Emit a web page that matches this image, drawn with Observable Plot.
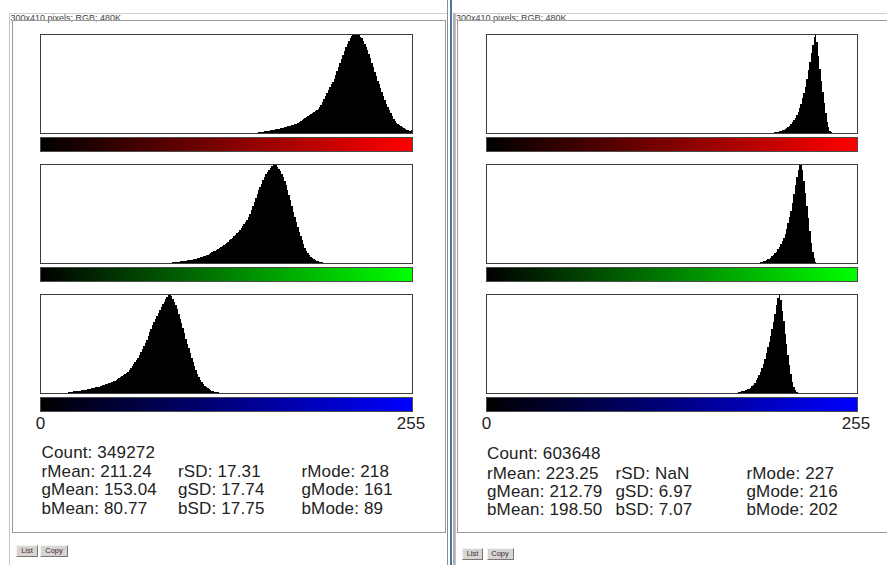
<!DOCTYPE html>
<html>
<head>
<meta charset="utf-8">
<script src="https://cdn.jsdelivr.net/npm/d3@7"></script>
<script src="https://cdn.jsdelivr.net/npm/@observablehq/plot@0.6"></script>
<style>
  html, body { margin: 0; padding: 0; background: #fff; }
  body { width: 887px; height: 565px; overflow: hidden; position: relative;
         font-family: "Liberation Sans", Arial, sans-serif; color: #1e1e1e; }
  .line { position: absolute; }
  .info { position: absolute; font-size: 9px; line-height: 8px; color: #444; white-space: nowrap; }
  .stat { position: absolute; font-size: 17px; line-height: 17px; white-space: nowrap; color: #222;
          letter-spacing: 0.15px; }
  .btn { position: absolute; box-sizing: border-box; background: #d8d5d0; border: 1px solid;
         border-color: #f4f4f4 #777 #777 #f4f4f4; font-size: 7.5px; line-height: 9px;
         text-align: center; color: #3a2a3a; }
  svg { overflow: visible; }
</style>
</head>
<body>
<script>
// ---- histogram counts (relative to each channel's peak = 100), one value per bin ----
const leftRedStart = 150;
const leftRed = [1, 1, 1.5, 1.5, 2, 2, 2.5, 2.5, 3, 3, 3.5, 3.5, 4, 4, 4.5, 5, 5, 5.5, 6, 6.5,
  7, 7, 7.5, 8, 8.5, 9, 9.5, 10, 11, 12, 13, 14, 15, 16, 17, 18, 19, 20, 21, 22,
  23, 24, 26, 28, 31, 34, 37, 40, 43, 46, 49, 52, 55, 59, 63, 67, 71, 75, 79, 83,
  87, 90, 93, 96, 98, 99, 99, 99.5, 100, 99, 97, 96, 93, 90, 87, 84, 80, 76, 71, 67,
  62, 58, 53, 49, 45, 41, 37, 33, 29, 26, 23, 20, 17, 14, 12, 10, 9, 8, 7, 6,
  5, 4, 3.5, 3, 2.5, 3];

const leftGreenStart = 91;
const leftGreen = [1, 1, 1.5, 1.5, 1.5, 2, 2, 2, 2.5, 2.5, 3, 3, 3.5, 3.5, 4, 4.5, 4.5, 5, 5.5, 6,
  6.5, 7, 7.5, 8, 8.5, 9, 10, 11, 12, 12.5, 13, 14, 15, 16, 17, 18, 19, 20, 21.5, 23,
  24, 25.5, 27, 28.5, 30, 31.5, 33, 35, 37, 39, 41, 43, 46, 50, 54, 58, 62, 66, 70, 74,
  77, 80, 84, 87, 90, 92, 94, 96, 98, 99, 100, 99, 97, 95, 93, 90, 87, 83, 79, 74,
  69, 64, 58, 52, 46, 41, 36, 31, 27, 23, 19, 15, 12, 10, 8, 6, 5, 4, 3, 2.5,
  2, 1.5, 1, 0.7];

const leftBlueStart = 19;
const leftBlue = [1, 1, 1.2, 1.4, 1.6, 1.8, 2, 2.2, 2.4, 2.6, 2.9, 3.2, 3.5, 3.8, 4.1, 4.4, 4.7, 5, 5.3, 5.6,
  6, 6.5, 7, 7.5, 8, 8.5, 9, 9.5, 10, 10.5, 11, 12, 12.5, 13.5, 14.5, 15.5, 16, 17, 18, 19,
  20, 21.5, 23, 25, 27, 29, 31, 33, 35, 38, 41, 44, 47, 51, 54, 58, 62, 65, 69, 72,
  75, 78, 81, 84, 87, 90, 92, 95, 97, 99, 100, 98, 95, 92, 89, 85, 80, 75, 71, 66,
  61, 55, 50, 45, 40, 35, 31, 27, 23, 19, 16, 13, 11, 9, 7, 6, 5, 4, 3, 2.5,
  2, 1.5, 1, 0.8];

const rightRedStart = 199;
const rightRed = [1, 1.2, 1.5, 2, 2.3, 2.7, 3, 4, 5, 6, 7.5, 9, 11, 13, 15.5, 18, 21, 25, 29, 35,
  40, 46, 55, 64, 72, 81, 89, 97, 100, 92, 78, 65, 53, 41, 30, 20, 11, 6, 2.5, 1];

const rightGreenStart = 189;
const rightGreen = [1, 1.5, 2, 2.5, 3, 3.8, 4.5, 5.5, 7, 8.5, 10, 11.5, 14, 16.5, 19, 22, 25, 29, 34, 40,
  46, 53, 61, 70, 79, 87, 94, 100, 99, 94, 83, 71, 58, 45, 32, 20, 11, 5, 1.5];

const rightBlueStart = 174;
const rightBlue = [1, 1.3, 1.6, 2, 2.5, 3, 3.6, 4.5, 5.5, 7, 8.5, 10.5, 13, 15.5, 18.5, 21.5, 25, 29, 34, 40,
  46, 52, 58, 65, 72, 80, 89, 96, 100, 94, 83, 73, 60, 49, 38, 28, 19, 11, 6, 3, 1];

// ---- statistics printed under each histogram stack ----
const channels = ["r", "g", "b"];
const leftCount = 349272;
const leftMean = [211.24, 153.04, 80.77];
const leftSD = [17.31, 17.74, 17.75];
const leftMode = [218, 161, 89];
const rightCount = 603648;
const rightMean = [223.25, 212.79, 198.50];
const rightSD = [NaN, 6.97, 7.07];
const rightMode = [227, 216, 202];

const windowInfo = "300x410 pixels; RGB; 480K";
const buttonLabels = ["List", "Copy"];
const axisTicks = [0, 255];
const channelColors = ["#ff0000", "#00ff00", "#0000ff"];
const levels = d3.range(256); // intensity levels shown in the colour ramps

// ---- helpers ----
function put(el, x, y) {
  el.style.position = "absolute";
  el.style.left = x + "px";
  el.style.top = y + "px";
  document.body.appendChild(el);
  return el;
}
function rule(x, y, w, h, color) {
  const d = document.createElement("div");
  d.className = "line";
  d.style.width = w + "px";
  d.style.height = h + "px";
  d.style.background = color;
  return put(d, x, y);
}
function label(cls, text, x, y) {
  const d = document.createElement("div");
  d.className = cls;
  d.textContent = text;
  return put(d, x, y);
}

function histogram(counts, start, width) {
  const bins = counts.map((v, i) => ({bin: start + i, value: v}));
  return Plot.plot({
    width, height: 101,
    marginTop: 1, marginBottom: 1, marginLeft: 1, marginRight: 1,
    x: {domain: [0, 256], axis: null},
    y: {domain: [0, 100], axis: null},
    style: {background: "transparent", overflow: "visible"},
    marks: [
      Plot.rect(bins, {x1: "bin", x2: d => d.bin + 1, y1: 0, y2: "value",
        fill: "#000", shapeRendering: "crispEdges"}),
      Plot.frame({stroke: "#3c3c3c", shapeRendering: "crispEdges"})
    ]
  });
}

function colorRamp(hue, width, withAxis) {
  return Plot.plot({
    width, height: withAxis ? 40 : 16,
    marginTop: 1, marginLeft: 1, marginRight: 1, marginBottom: withAxis ? 25 : 1,
    x: withAxis
      ? {domain: [0, 256], ticks: axisTicks, tickSize: 0, tickPadding: 5, tickFormat: d => String(d)}
      : {domain: [0, 256], axis: null},
    y: {domain: [0, 1], axis: null},
    color: {type: "linear", domain: [0, 255], range: ["#000000", hue], interpolate: "rgb"},
    style: {background: "transparent", overflow: "visible", fontSize: "17px",
      fontFamily: "Liberation Sans, Arial, sans-serif", color: "#222"},
    marks: [
      Plot.rect(levels, {x1: d => d, x2: d => d + 1, y1: 0, y2: 1, fill: d => d,
        shapeRendering: "crispEdges"}),
      Plot.frame({stroke: "#4a4a4a", shapeRendering: "crispEdges"})
    ]
  });
}

// ---- one histogram window ----
function drawWindow(o) {
  // window chrome
  rule(o.edgeX, 13, o.topW, 1, "#cfcfcf");
  rule(o.edgeX, 13, 1, 552, "#c4c4c4");
  label("info", windowInfo, o.edgeX + 1.5, 13.5);
  const panel = document.createElement("div");
  panel.style.boxSizing = "border-box";
  panel.style.width = o.panelW + "px";
  panel.style.height = "513px";
  panel.style.border = "1px solid #9a9a9a";
  put(panel, o.panelX, 20);

  // histograms and their ramps
  const hists = [[o.red, o.redStart], [o.green, o.greenStart], [o.blue, o.blueStart]];
  hists.forEach(([counts, start], k) => {
    const top = 34 + 130 * k;
    put(histogram(counts, start, o.plotW), o.plotX - 1, top - 1);
    put(colorRamp(channelColors[k], o.plotW, k === 2), o.plotX - 1, top + 102);
  });

  // statistics
  const [c1, c2, c3] = o.cols;
  label("stat", "Count: " + o.count, c1, o.rows[0] - 2.2);
  channels.forEach((ch, k) => {
    const y = o.rows[k + 1] - 2.2;
    label("stat", ch + "Mean: " + o.mean[k].toFixed(2), c1, y);
    label("stat", ch + "SD: " + (isNaN(o.sd[k]) ? "NaN" : o.sd[k].toFixed(2)), c2, y);
    label("stat", ch + "Mode: " + o.mode[k], c3, y);
  });

  // buttons
  o.buttons.forEach(([x, w], i) => {
    const b = document.createElement("div");
    b.className = "btn";
    b.style.width = w + "px";
    b.style.height = "12px";
    b.textContent = buttonLabels[i];
    put(b, x, o.buttonY);
  });
}

drawWindow({
  edgeX: 9, topW: 439, panelX: 11.5, panelW: 434.5, plotX: 40, plotW: 374,
  red: leftRed, redStart: leftRedStart, green: leftGreen, greenStart: leftGreenStart,
  blue: leftBlue, blueStart: leftBlueStart,
  count: leftCount, mean: leftMean, sd: leftSD, mode: leftMode,
  cols: [41.5, 178, 301.5], rows: [446, 465, 483.5, 502],
  buttons: [[16, 22], [40, 28]], buttonY: 545
});

// divider between the two windows
rule(446.5, 0, 1.5, 565, "#8d8d8d");
rule(449.5, 0, 2.5, 565, "#4a74ad");
rule(452.5, 13, 2, 552, "#b0b0b0");

drawWindow({
  edgeX: 454.5, topW: 433, panelX: 456.5, panelW: 440, plotX: 486, plotW: 373,
  red: rightRed, redStart: rightRedStart, green: rightGreen, greenStart: rightGreenStart,
  blue: rightBlue, blueStart: rightBlueStart,
  count: rightCount, mean: rightMean, sd: rightSD, mode: rightMode,
  cols: [487, 615.5, 746.5], rows: [446.7, 466.7, 485, 503.3],
  buttons: [[462, 21], [486.5, 27]], buttonY: 548
});
</script>
</body>
</html>
